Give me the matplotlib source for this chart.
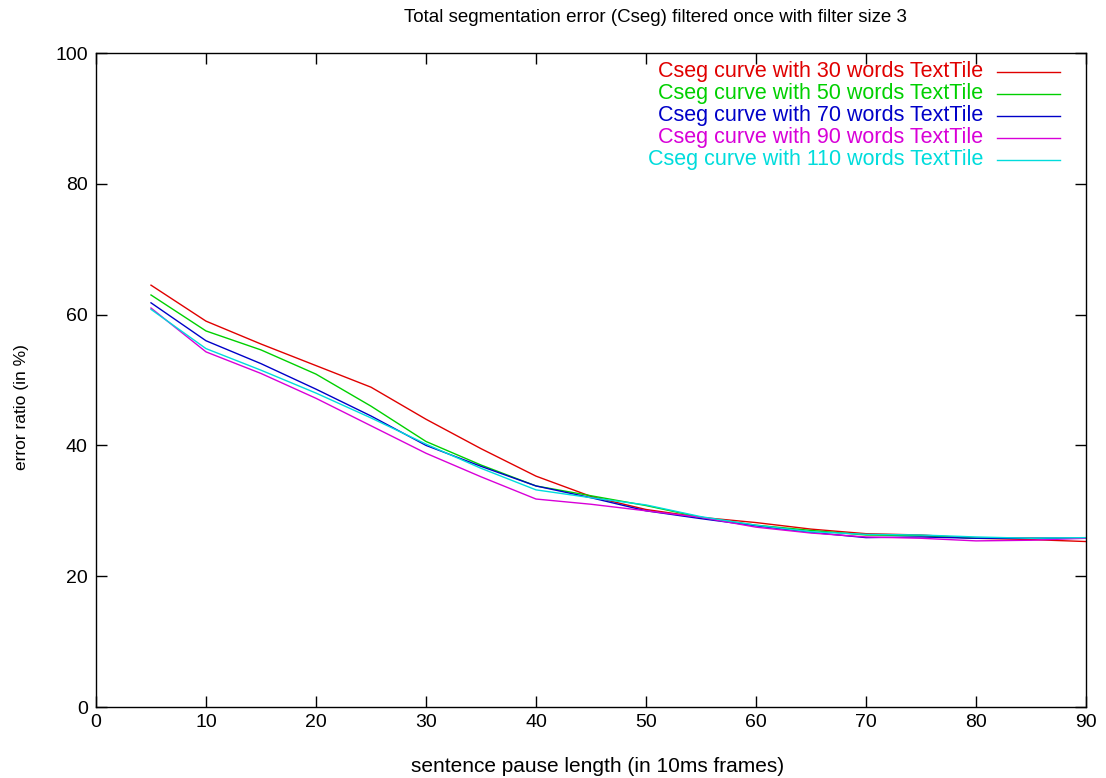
import matplotlib
matplotlib.use("Agg")
import matplotlib.pyplot as plt

plt.rcParams['font.family'] = ['Liberation Sans', 'DejaVu Sans']

pause_length = [5, 10, 15, 20, 25, 30, 35, 40, 45, 50, 55, 60, 65, 70, 75, 80, 85, 90]

cseg_30 = [64.5, 59.0, 55.5, 52.2, 48.9, 44.0, 39.5, 35.3, 32.2, 30.2, 29.0, 28.2, 27.2, 26.5, 26.3, 25.8, 25.6, 25.3]
cseg_50 = [63.0, 57.5, 54.6, 50.9, 46.0, 40.6, 37.0, 33.8, 32.3, 30.8, 29.0, 27.8, 27.0, 26.3, 26.2, 25.8, 25.8, 25.8]
cseg_70 = [61.8, 56.0, 52.5, 48.6, 44.5, 40.0, 36.8, 33.8, 32.0, 30.0, 28.8, 27.7, 26.7, 25.9, 26.0, 25.8, 25.8, 25.8]
cseg_90 = [61.0, 54.3, 51.0, 47.2, 43.0, 38.8, 35.2, 31.8, 31.0, 30.0, 29.0, 27.5, 26.6, 26.0, 25.8, 25.4, 25.5, 25.8]
cseg_110 = [60.8, 54.8, 51.5, 48.0, 44.2, 40.2, 36.5, 33.2, 32.0, 30.9, 29.1, 27.8, 26.8, 26.4, 26.3, 26.0, 25.8, 25.9]

series = [
    ("Cseg curve with 30 words TextTile", cseg_30, "#e00000"),
    ("Cseg curve with 50 words TextTile", cseg_50, "#00d000"),
    ("Cseg curve with 70 words TextTile", cseg_70, "#0000c8"),
    ("Cseg curve with 90 words TextTile", cseg_90, "#d800d8"),
    ("Cseg curve with 110 words TextTile", cseg_110, "#00dcdc"),
]

x_ticks = [0, 10, 20, 30, 40, 50, 60, 70, 80, 90]
y_ticks = [0, 20, 40, 60, 80, 100]

W, H = 1106, 778
left, right, top, bottom = 96, 1086, 53, 707

fig = plt.figure(figsize=(W / 100, H / 100), dpi=100)
ax = fig.add_axes([left / W, 1 - bottom / H, (right - left) / W, (bottom - top) / H])

for label, values, color in series:
    ax.plot(pause_length, values, color=color, linewidth=1.0, label=label)

ax.set_xlim(0, 90)
ax.set_ylim(0, 100)
ax.set_xticks(x_ticks)
ax.set_yticks(y_ticks)
ax.tick_params(direction='in', length=8, width=1, top=True, right=True,
               labelsize=14, pad=6)
ax.tick_params(axis='x', pad=5)
for spine in ax.spines.values():
    spine.set_linewidth(1.0)

# gnuplot-style title, placed a little right of centre
fig.text(655 / W, 1 - 18 / H,
         "Total segmentation error (Cseg) filtered once with filter size 3",
         ha='center', va='center', fontsize=13.5)

ax.set_xlabel("sentence pause length (in 10ms frames)", fontsize=15)
ax.xaxis.set_label_coords((598 - left) / (right - left), (bottom - 766) / (bottom - top))
ax.xaxis.label.set_va('center')
ax.set_ylabel("error ratio (in %)", fontsize=12.5)
ax.yaxis.set_label_coords((22 - left) / (right - left), (bottom - 407) / (bottom - top))
ax.yaxis.label.set_va('center')

# key in the upper right: right-aligned coloured labels, sample line after each
def to_ax(px, py):
    return (px - left) / (right - left), (bottom - py) / (bottom - top)

for i, (label, values, color) in enumerate(series):
    py = 72 + 22 * i
    tx, ty = to_ax(983, py)
    ax.text(tx, ty, label, transform=ax.transAxes, ha='right', va='center',
            color=color, fontsize=15.5)
    x0, y0 = to_ax(997, py)
    x1, _ = to_ax(1060, py)
    ax.plot([x0, x1], [y0, y0], transform=ax.transAxes, color=color,
            linewidth=1.0, clip_on=False)

fig.savefig("out.png", dpi=100)
